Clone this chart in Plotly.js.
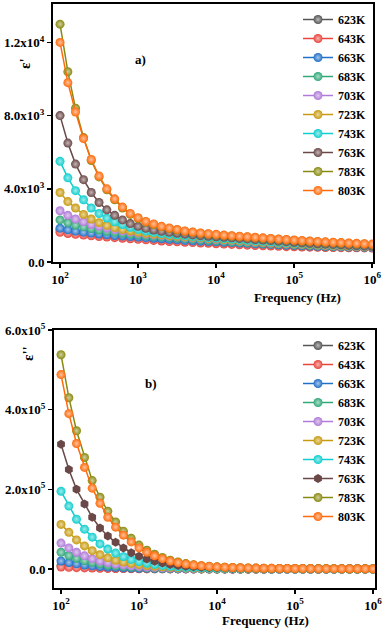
<!DOCTYPE html>
<html>
<head>
<meta charset="utf-8">
<script src="https://cdn.plot.ly/plotly-3.0.1.min.js"></script>
<style>
  html, body { margin: 0; padding: 0; background: #ffffff; }
  #plot { width: 387px; height: 633px; }
</style>
</head>
<body>
<div id="plot"></div>
<script>
// frequency points (Hz), 10 per decade
var freq = [100, 126, 158, 200, 251, 316, 398, 501, 631, 794,
  1000, 1259, 1585, 1995, 2512, 3162, 3981, 5012, 6310, 7943,
  10000, 12589, 15849, 19953, 25119, 31623, 39811, 50119, 63096, 79433,
  100000, 125893, 158489, 199526, 251189, 316228, 398107, 501187, 630957, 794328,
  1000000];

var temps = ['623K', '643K', '663K', '683K', '703K', '723K', '743K', '763K', '783K', '803K'];
var colors = ['#555555', '#e8453c', '#2070c8', '#30a878', '#b07ad8', '#c89a10', '#10cece', '#6a4848', '#8a8a10', '#ff6a0a'];

// ---- epsilon' (real part) ----
var re623 = [1750, 1680, 1620, 1570, 1520, 1480, 1440, 1400, 1370, 1340, 1310, 1280, 1250, 1220, 1190, 1160, 1140, 1120, 1100, 1080, 1060, 1040, 1020, 1000, 980, 960, 940, 920, 900, 885, 870, 855, 840, 830, 820, 810, 805, 800, 795, 790, 785];
var re643 = [1620, 1560, 1510, 1470, 1430, 1390, 1360, 1330, 1300, 1270, 1240, 1210, 1180, 1150, 1120, 1100, 1080, 1060, 1040, 1020, 1000, 980, 960, 940, 920, 900, 885, 870, 855, 840, 830, 820, 810, 800, 795, 790, 785, 780, 775, 770, 765];
var re663 = [1850, 1760, 1690, 1630, 1580, 1530, 1490, 1450, 1420, 1390, 1360, 1330, 1300, 1270, 1240, 1210, 1180, 1160, 1140, 1120, 1100, 1080, 1060, 1040, 1020, 1000, 980, 960, 940, 920, 905, 890, 875, 860, 850, 840, 830, 820, 810, 805, 800];
var re683 = [2300, 2150, 2020, 1920, 1830, 1750, 1680, 1620, 1570, 1520, 1480, 1440, 1400, 1370, 1340, 1310, 1280, 1250, 1220, 1190, 1160, 1130, 1100, 1080, 1060, 1040, 1020, 1000, 980, 960, 940, 920, 905, 890, 875, 860, 850, 840, 830, 820, 810];
var re703 = [2800, 2550, 2350, 2200, 2050, 1950, 1850, 1770, 1700, 1640, 1580, 1530, 1490, 1450, 1410, 1380, 1350, 1320, 1290, 1260, 1230, 1200, 1170, 1140, 1110, 1080, 1060, 1040, 1020, 1000, 980, 960, 940, 920, 900, 885, 870, 855, 840, 830, 820];
var re723 = [3800, 3300, 2950, 2600, 2350, 2150, 2000, 1880, 1780, 1700, 1630, 1570, 1520, 1480, 1440, 1410, 1380, 1350, 1320, 1290, 1260, 1230, 1200, 1170, 1140, 1110, 1080, 1060, 1040, 1020, 1000, 980, 960, 940, 920, 905, 890, 875, 860, 850, 840];
var re743 = [5500, 4600, 3900, 3400, 2950, 2650, 2400, 2200, 2050, 1900, 1780, 1690, 1620, 1560, 1510, 1470, 1430, 1400, 1370, 1340, 1310, 1280, 1250, 1220, 1190, 1160, 1130, 1100, 1080, 1060, 1040, 1020, 1000, 980, 960, 940, 920, 910, 890, 875, 860];
var re763 = [8000, 6500, 5350, 4500, 3800, 3250, 2850, 2550, 2300, 2100, 1950, 1840, 1750, 1680, 1620, 1570, 1520, 1480, 1440, 1410, 1380, 1350, 1320, 1290, 1260, 1230, 1200, 1170, 1140, 1110, 1080, 1050, 1020, 1000, 980, 960, 940, 920, 900, 880, 860];
var re783 = [13000, 10400, 8400, 6800, 5550, 4650, 3950, 3400, 2950, 2600, 2380, 2180, 2040, 1920, 1830, 1750, 1680, 1620, 1570, 1530, 1490, 1450, 1420, 1390, 1360, 1330, 1300, 1270, 1240, 1210, 1180, 1150, 1130, 1100, 1080, 1060, 1040, 1020, 1000, 980, 960];
var re803 = [12000, 9800, 8200, 6750, 5600, 4700, 4000, 3450, 3000, 2650, 2420, 2220, 2080, 1950, 1860, 1780, 1700, 1640, 1590, 1550, 1510, 1470, 1440, 1410, 1380, 1350, 1320, 1290, 1260, 1230, 1200, 1175, 1150, 1125, 1100, 1080, 1060, 1040, 1020, 1000, 980];

// ---- epsilon'' (imaginary part) ----
var im623 = [9000, 7300, 5900, 4800, 3800, 3100, 2500, 2000, 1600, 1300, 1050, 850, 700, 570, 470, 390, 320, 270, 230, 195, 165, 140, 120, 105, 92, 82, 73, 66, 60, 55, 50, 46, 42, 39, 36, 34, 32, 30, 28, 27, 26];
var im643 = [5000, 4100, 3300, 2700, 2200, 1800, 1450, 1200, 980, 800, 650, 530, 440, 360, 300, 250, 210, 175, 148, 125, 106, 90, 77, 66, 57, 50, 44, 39, 35, 31, 28, 25, 23, 21, 19, 18, 17, 16, 15, 14, 13];
var im663 = [20000, 16000, 13000, 10000, 8000, 6300, 5000, 4000, 3200, 2500, 2000, 1600, 1300, 1050, 850, 700, 570, 470, 390, 330, 280, 240, 205, 180, 160, 140, 125, 112, 100, 92, 85, 78, 72, 67, 62, 58, 55, 52, 50, 48, 46];
var im683 = [42000, 34000, 27000, 21000, 16500, 13000, 10000, 8000, 6300, 5000, 4000, 3200, 2500, 2000, 1600, 1300, 1050, 850, 700, 580, 480, 400, 340, 290, 250, 220, 195, 175, 160, 145, 135, 125, 115, 108, 100, 95, 90, 85, 80, 77, 74];
var im703 = [65000, 53000, 42000, 33000, 26000, 20000, 16000, 12500, 10000, 8000, 6300, 5000, 4000, 3200, 2600, 2100, 1700, 1400, 1150, 950, 800, 680, 580, 500, 440, 390, 350, 320, 290, 270, 250, 230, 215, 200, 190, 180, 170, 160, 155, 150, 145];
var im723 = [112000, 92000, 73000, 58000, 46000, 36000, 28000, 22000, 17500, 14000, 11000, 8700, 6900, 5500, 4400, 3500, 2800, 2300, 1900, 1600, 1350, 1150, 1000, 880, 780, 700, 630, 570, 520, 480, 440, 410, 380, 360, 340, 320, 300, 290, 280, 270, 260];
var im743 = [195000, 158000, 125000, 100000, 80000, 63000, 50000, 40000, 31000, 24000, 18500, 14500, 11500, 9000, 7000, 5500, 4400, 3500, 2900, 2400, 2000, 1700, 1450, 1250, 1100, 950, 850, 760, 690, 630, 580, 540, 500, 470, 440, 420, 400, 380, 360, 350, 340];
var im763 = [313000, 250000, 200000, 163000, 130000, 103000, 83000, 67000, 53000, 41000, 32000, 25000, 19500, 15000, 11500, 9000, 7000, 5500, 4400, 3600, 3000, 2500, 2100, 1800, 1550, 1350, 1200, 1050, 950, 850, 780, 720, 670, 620, 580, 550, 520, 500, 480, 460, 440];
var im783 = [538000, 430000, 347000, 280000, 222000, 180000, 145000, 118000, 95000, 77000, 60000, 47000, 37000, 29000, 22000, 17500, 13500, 10500, 8400, 6700, 5400, 4400, 3700, 3100, 2600, 2200, 1900, 1700, 1500, 1350, 1200, 1100, 1000, 920, 850, 790, 740, 700, 660, 630, 600];
var im803 = [488000, 390000, 315000, 255000, 203000, 165000, 130000, 105000, 85000, 68000, 53000, 42000, 33000, 26000, 20000, 16000, 12500, 10000, 8000, 6500, 5200, 4300, 3600, 3000, 2600, 2200, 1900, 1700, 1500, 1350, 1200, 1100, 1000, 920, 850, 790, 740, 700, 660, 630, 600];

var reData = [re623, re643, re663, re683, re703, re723, re743, re763, re783, re803];
var imData = [im623, im643, im663, im683, im703, im723, im743, im763, im783, im803];

// lighter tint for the ball highlight
function tint(hex) {
  var r = parseInt(hex.slice(1, 3), 16), g = parseInt(hex.slice(3, 5), 16), b = parseInt(hex.slice(5, 7), 16);
  r = Math.round(r + (255 - r) * 0.6); g = Math.round(g + (255 - g) * 0.6); b = Math.round(b + (255 - b) * 0.6);
  return 'rgb(' + r + ',' + g + ',' + b + ')';
}

var serif = 'Liberation Serif, Times New Roman, serif';
var data = [];

for (var i = 0; i < temps.length; i++) {
  data.push({
    type: 'scatter',
    mode: 'lines+markers',
    name: temps[i],
    x: freq,
    y: reData[i],
    xaxis: 'x',
    yaxis: 'y',
    legend: 'legend',
    line: { color: colors[i], width: 1.5 },
    marker: { color: colors[i], size: 9, symbol: 'circle', gradient: { type: 'radial', color: tint(colors[i]) } }
  });
}

for (var j = 0; j < temps.length; j++) {
  data.push({
    type: 'scatter',
    mode: 'lines+markers',
    name: temps[j],
    x: freq,
    y: imData[j],
    xaxis: 'x2',
    yaxis: 'y2',
    legend: 'legend2',
    line: { color: colors[j], width: 1.5 },
    marker: {
      color: colors[j], size: 9,
      symbol: temps[j] == '763K' ? 'hexagon' : 'circle',
      gradient: temps[j] == '763K' ? { type: 'none' } : { type: 'radial', color: tint(colors[j]) }
    }
  });
}

var tickFont = { family: serif, size: 13, color: '#000000', weight: 'bold' };
var xTicks = {
  type: 'log',
  tickvals: [100, 1000, 10000, 100000, 1000000],
  ticktext: ['10<sup>2</sup>', '10<sup>3</sup>', '10<sup>4</sup>', '10<sup>5</sup>', '10<sup>6</sup>'],
  showgrid: false, zeroline: false,
  showline: true, mirror: true, linecolor: '#000000', linewidth: 2,
  ticks: 'outside', ticklen: 4, tickwidth: 1.5, tickcolor: '#000000',
  tickfont: tickFont
};

function axisCopy(extra) {
  var a = JSON.parse(JSON.stringify(xTicks));
  for (var k in extra) a[k] = extra[k];
  return a;
}

function label(text, px, py, size, angle) {
  return {
    text: text, xref: 'paper', yref: 'paper', x: px / 387, y: 1 - py / 633,
    xanchor: 'center', yanchor: 'middle', showarrow: false, textangle: angle || 0,
    font: { family: serif, size: size, color: '#000000', weight: 'bold' }
  };
}

var layout = {
  width: 387,
  height: 633,
  margin: { l: 0, r: 0, t: 0, b: 0 },
  paper_bgcolor: '#ffffff',
  plot_bgcolor: '#ffffff',
  font: { family: serif, color: '#000000' },
  xaxis: axisCopy({ domain: [53 / 387, 373 / 387], range: [1.91, 6.01], anchor: 'y' }),
  yaxis: {
    domain: [371 / 633, 629 / 633], range: [0, 14100], anchor: 'x',
    tickvals: [0, 4000, 8000, 12000],
    ticktext: ['0.0', '4.0x10<sup>3</sup>', '8.0x10<sup>3</sup>', '1.2x10<sup>4</sup>'],
    showgrid: false, zeroline: false,
    showline: true, mirror: true, linecolor: '#000000', linewidth: 2,
    ticks: 'outside', ticklen: 4, tickwidth: 1.5, tickcolor: '#000000',
    tickfont: tickFont
  },
  xaxis2: axisCopy({ domain: [54 / 387, 375 / 387], range: [1.91, 6.026], anchor: 'y2' }),
  yaxis2: {
    domain: [45 / 633, 303 / 633], range: [-47700, 600000], anchor: 'x2',
    tickvals: [0, 200000, 400000, 600000],
    ticktext: ['0.0', '2.0x10<sup>5</sup>', '4.0x10<sup>5</sup>', '6.0x10<sup>5</sup>'],
    showgrid: false, zeroline: false,
    showline: true, mirror: true, linecolor: '#000000', linewidth: 2,
    ticks: 'outside', ticklen: 4, tickwidth: 1.5, tickcolor: '#000000',
    tickfont: tickFont
  },
  legend: {
    x: 298 / 387, xanchor: 'left', y: 628 / 633, yanchor: 'top',
    bgcolor: 'rgba(0,0,0,0)', borderwidth: 0,
    font: { family: serif, size: 12, color: '#000000', weight: 'bold' }
  },
  legend2: {
    x: 298 / 387, xanchor: 'left', y: 302 / 633, yanchor: 'top',
    bgcolor: 'rgba(0,0,0,0)', borderwidth: 0,
    font: { family: serif, size: 12, color: '#000000', weight: 'bold' }
  },
  annotations: [
    label("ε'", 25, 63, 15, -90),
    label('a)', 140, 60, 13),
    label('Frequency (Hz)', 297, 297, 13),
    label("ε''", 28, 353, 15, -90),
    label('b)', 151, 383, 13),
    label('Frequency (Hz)', 265, 620, 13)
  ]
};

Plotly.newPlot('plot', data, layout, { displayModeBar: false, staticPlot: true });
</script>
</body>
</html>
